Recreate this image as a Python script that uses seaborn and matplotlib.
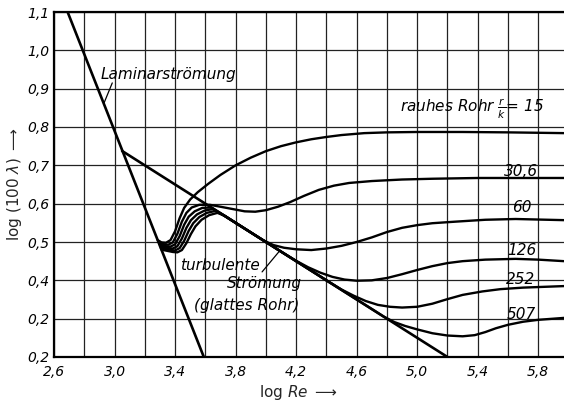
import matplotlib
matplotlib.use("Agg")
import matplotlib.pyplot as plt
import numpy as np
import pandas as pd
import seaborn as sns

# Laminar flow: 100*lambda = 6400/Re
laminar_x = [2.69, 3.59]
laminar_y = [1.10, 0.20]

# Smooth pipe (Blasius)
smooth_x = [3.05, 5.20]
smooth_y = [0.7375, 0.20]

# Rough pipes, r/k = 15 ... 507
rough_15_x = [3.285, 3.31, 3.34, 3.37, 3.40, 3.43, 3.46, 3.50, 3.55, 3.62, 3.70, 3.80, 3.90, 4.00,
              4.10, 4.20, 4.30, 4.40, 4.50, 4.65, 4.80, 5.00, 5.30, 5.60, 5.97]
rough_15_y = [0.505, 0.499, 0.498, 0.505, 0.528, 0.562, 0.589, 0.611, 0.630, 0.652, 0.675, 0.700,
              0.720, 0.737, 0.750, 0.760, 0.768, 0.774, 0.779, 0.784, 0.786, 0.787, 0.787, 0.786, 0.784]

rough_30_x = [3.29, 3.325, 3.355, 3.385, 3.415, 3.445, 3.475, 3.51, 3.56, 3.63, 3.70, 3.78, 3.86,
              3.93, 4.00, 4.08, 4.16, 4.25, 4.35, 4.45, 4.55, 4.70, 4.90, 5.10, 5.40, 5.97]
rough_30_y = [0.500, 0.494, 0.493, 0.499, 0.521, 0.553, 0.576, 0.590, 0.597, 0.597, 0.592, 0.586,
              0.580, 0.579, 0.583, 0.592, 0.604, 0.620, 0.636, 0.647, 0.654, 0.659, 0.663, 0.665,
              0.667, 0.667]

rough_60_x = [3.295, 3.34, 3.37, 3.40, 3.43, 3.46, 3.49, 3.53, 3.58, 3.64, 3.70, 3.80, 3.90, 3.98,
              4.05, 4.12, 4.20, 4.30, 4.40, 4.50, 4.60, 4.70, 4.80, 4.90, 5.00, 5.10, 5.25, 5.45,
              5.65, 5.97]
rough_60_y = [0.495, 0.489, 0.488, 0.494, 0.515, 0.545, 0.566, 0.580, 0.589, 0.590, 0.575, 0.550,
              0.525, 0.505, 0.492, 0.485, 0.481, 0.479, 0.483, 0.490, 0.500, 0.512, 0.526, 0.537,
              0.544, 0.549, 0.553, 0.558, 0.560, 0.557]

rough_126_x = [3.30, 3.355, 3.385, 3.415, 3.445, 3.475, 3.505, 3.545, 3.595, 3.65, 3.70, 3.80,
               3.90, 4.00, 4.10, 4.20, 4.28, 4.36, 4.44, 4.52, 4.60, 4.70, 4.80, 4.90, 5.00, 5.10,
               5.20, 5.30, 5.45, 5.65, 5.80, 5.97]
rough_126_y = [0.490, 0.484, 0.483, 0.489, 0.509, 0.537, 0.557, 0.572, 0.582, 0.586, 0.575, 0.550,
               0.525, 0.500, 0.475, 0.451, 0.434, 0.420, 0.409, 0.402, 0.399, 0.400, 0.406, 0.416,
               0.427, 0.437, 0.445, 0.450, 0.454, 0.456, 0.454, 0.450]

rough_252_x = [3.305, 3.37, 3.40, 3.43, 3.46, 3.49, 3.52, 3.56, 3.61, 3.665, 3.72, 3.80, 3.90,
               4.00, 4.10, 4.20, 4.30, 4.40, 4.50, 4.58, 4.66, 4.74, 4.82, 4.90, 5.00, 5.10, 5.20,
               5.30, 5.43, 5.55, 5.70, 5.97]
rough_252_y = [0.485, 0.479, 0.478, 0.484, 0.503, 0.529, 0.549, 0.565, 0.576, 0.581, 0.570, 0.550,
               0.525, 0.500, 0.475, 0.450, 0.425, 0.400, 0.376, 0.360, 0.346, 0.336, 0.331, 0.329,
               0.331, 0.339, 0.351, 0.362, 0.371, 0.377, 0.381, 0.385]

rough_507_x = [3.31, 3.385, 3.415, 3.445, 3.475, 3.505, 3.535, 3.575, 3.625, 3.68, 3.73, 3.80,
               4.00, 4.20, 4.40, 4.60, 4.70, 4.78, 4.85, 4.92, 5.00, 5.10, 5.20, 5.30, 5.38, 5.45,
               5.52, 5.60, 5.70, 5.80, 5.97]
rough_507_y = [0.480, 0.474, 0.473, 0.479, 0.497, 0.521, 0.541, 0.558, 0.570, 0.576, 0.568, 0.550,
               0.500, 0.450, 0.400, 0.350, 0.325, 0.305, 0.291, 0.281, 0.272, 0.262, 0.256, 0.254,
               0.257, 0.265, 0.275, 0.284, 0.292, 0.297, 0.302]

rough_labels = ["30,6", "60", "126", "252", "507"]
label_x = [5.683, 5.689, 5.689, 5.683, 5.689]
label_y = [0.685, 0.589, 0.479, 0.401, 0.312]

y_ticks = [0.2, 0.3, 0.4, 0.5, 0.6, 0.7, 0.8, 0.9, 1.0, 1.1]
y_ticklabels = ["0,2", "0,2", "0,4", "0,5", "0,6", "0,7", "0,8", "0,9", "1,0", "1,1"]
x_ticks = [2.6, 2.8, 3.0, 3.2, 3.4, 3.6, 3.8, 4.0, 4.2, 4.4, 4.6, 4.8, 5.0, 5.2, 5.4, 5.6, 5.8]
x_ticklabels = ["2,6", "", "3,0", "", "3,4", "", "3,8", "", "4,2", "", "4,6", "", "5,0", "",
                "5,4", "", "5,8"]

straight = {
    "laminar": (laminar_x, laminar_y),
    "glatt": (smooth_x, smooth_y),
}
rough = {
    "15": (rough_15_x, rough_15_y),
    "30,6": (rough_30_x, rough_30_y),
    "60": (rough_60_x, rough_60_y),
    "126": (rough_126_x, rough_126_y),
    "252": (rough_252_x, rough_252_y),
    "507": (rough_507_x, rough_507_y),
}


def long_form(curves):
    return pd.concat(
        [pd.DataFrame({"logRe": xs, "loglam": ys, "kurve": name})
         for name, (xs, ys) in curves.items()],
        ignore_index=True,
    )


sns.set_theme(style="white")
plt.rcParams["font.family"] = ["DejaVu Sans"]
plt.rcParams["mathtext.fontset"] = "dejavusans"

fig = plt.figure(figsize=(5.64, 4.04), dpi=100)
ax = fig.add_axes([54 / 564, 47 / 404, 510 / 564, 345 / 404])

sns.lineplot(data=long_form(straight), x="logRe", y="loglam", units="kurve", estimator=None,
             sort=False, color="black", lw=1.9, ax=ax)
sns.lineplot(data=long_form(rough), x="logRe", y="loglam", units="kurve", estimator=None,
             sort=False, color="black", lw=1.7, ax=ax)

ax.set_xlim(2.6, 5.97)
ax.set_ylim(0.2, 1.1)
ax.set_xticks(x_ticks)
ax.set_xticklabels(x_ticklabels, style="italic", fontsize=10)
ax.set_yticks(y_ticks)
ax.set_yticklabels(y_ticklabels, style="italic", fontsize=10)
ax.tick_params(axis="both", length=0, colors="black")
ax.tick_params(axis="x", pad=6)
ax.tick_params(axis="y", pad=3)
ax.grid(True, color="#222222", lw=0.9)
ax.set_axisbelow(True)

for side in ["left", "bottom", "top"]:
    ax.spines[side].set_visible(True)
    ax.spines[side].set_color("black")
    ax.spines[side].set_linewidth(1.6)
ax.spines["right"].set_visible(False)

ax.set_xlabel(r"log $\mathit{Re}$ $\longrightarrow$", fontsize=11)
ax.set_ylabel(r"log (100 $\lambda$) $\longrightarrow$", fontsize=11)
ax.xaxis.set_label_coords(0.48, -0.075)
ax.yaxis.set_label_coords(-0.058, 0.5)

txt = dict(style="italic", fontsize=11, color="black")
ax.text(2.905, 0.938, "Laminarströmung", ha="left", va="center", **txt)
ax.plot([2.93, 2.985], [0.862, 0.915], color="black", lw=0.9)

ax.text(3.696, 0.440, "turbulente", ha="center", va="center", **txt)
ax.text(3.993, 0.393, "Strömung", ha="center", va="center", **txt)
ax.text(3.874, 0.335, "(glattes Rohr)", ha="center", va="center", **txt)
ax.plot([3.975, 4.085], [0.422, 0.474], color="black", lw=0.9)

ax.text(5.36, 0.846, r"rauhes Rohr $\frac{r}{k}$= 15", ha="center", va="center", **txt)
for lab, lx, ly in zip(rough_labels, label_x, label_y):
    ax.text(lx, ly, lab, ha="center", va="center", **txt)

fig.savefig("out.png", dpi=100, facecolor="white")
